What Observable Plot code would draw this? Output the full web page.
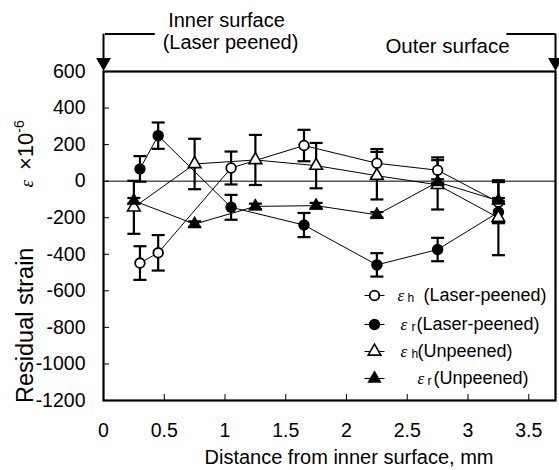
<!DOCTYPE html>
<html><head><meta charset="utf-8">
<script src="https://cdn.jsdelivr.net/npm/d3@7"></script>
<script src="https://cdn.jsdelivr.net/npm/@observablehq/plot@0.6"></script>
<style>
html,body{margin:0;padding:0;background:#fff;}
#chart{width:559px;height:470px;overflow:hidden;}
</style>
</head><body><div id="chart"></div>
<script>
// ---- data ----
const xPeened   = [0.30, 0.45, 1.05, 1.65, 2.25, 2.75, 3.25];
const xUnpeened = [0.25, 0.75, 1.25, 1.75, 2.25, 2.75, 3.25];
const ehLaser      = [-448, -392, 72, 195, 98, 60, -115];
const ehLaserErr   = [92, 97, 90, 86, 78, 70, 110];
const erLaser      = [67, 249, -143, -240, -458, -374, -170];
const erLaserErr   = [70, 72, 68, 66, 64, 64, 60];
const ehUnpeened    = [-143, 94, 116, 85, 30, -20, -200];
const ehUnpeenedErr = [145, 138, 137, 124, 130, 135, 205];
const erUnpeened    = [-107, -235, -138, -134, -184, -5, -107];
const erUnpeenedErr = [15, 15, 15, 15, 15, 15, 15];
const xTicks = [0, 0.5, 1, 1.5, 2, 2.5, 3, 3.5];
const yTicks = [-1200, -1000, -800, -600, -400, -200, 0, 200, 400, 600];
const wallThickness = 3.72;            // outer surface position, mm
const surfaceX = [0, wallThickness];   // inner / outer surface
const seriesNames = ["εh (Laser-peened)", "εr (Laser-peened)", "εh (Unpeened)", "εr (Unpeened)"];

// ---- table ----
function rows(name, xs, ys, es) { return xs.map((x, i) => ({series: name, x, y: ys[i], err: es[i]})); }
const S = [
  rows(seriesNames[0], xPeened, ehLaser, ehLaserErr),
  rows(seriesNames[1], xPeened, erLaser, erLaserErr),
  rows(seriesNames[2], xUnpeened, ehUnpeened, ehUnpeenedErr),
  rows(seriesNames[3], xUnpeened, erUnpeened, erUnpeenedErr)
];
const all = S.flat();

const cap = {draw(ctx) { ctx.moveTo(-6.5, 0); ctx.lineTo(6.5, 0); }};
const legLine = {draw(ctx) { ctx.moveTo(-10, 0); ctx.lineTo(10, 0); }};
const styles = [
  {symbol: "circle", fill: "white", r: 4.8, strokeWidth: 1.8},
  {symbol: "circle", fill: "black", r: 5.7, strokeWidth: 0},
  {symbol: "triangle", fill: "white", r: 4.7, strokeWidth: 1.6},
  {symbol: "triangle", fill: "black", r: 5.0, strokeWidth: 0.5}
];

const marks = [
  Plot.ruleY([0], {stroke: "black", strokeWidth: 1}),
  ...S.map(d => Plot.line(d, {x: "x", y: "y", stroke: "black", strokeWidth: 1})),
  Plot.ruleX(all, {x: "x", y1: d => d.y - d.err, y2: d => d.y + d.err, stroke: "black", strokeWidth: 2.2}),
  Plot.dot(all, {x: "x", y: d => d.y + d.err, symbol: cap, r: 5, stroke: "black", strokeWidth: 2.2}),
  Plot.dot(all, {x: "x", y: d => d.y - d.err, symbol: cap, r: 5, stroke: "black", strokeWidth: 2.2}),
  ...S.map((d, i) => Plot.dot(d, {x: "x", y: "y", stroke: "black", ...styles[i]})),
  Plot.frame({stroke: "black", strokeWidth: 2.2}),
  Plot.axisX({ticks: xTicks, tickSize: -6, tickPadding: 29, tickFormat: d => String(d), fontSize: 19.5, label: null, strokeWidth: 1}),
  Plot.axisY({ticks: yTicks, tickSize: -6, tickPadding: 24, tickFormat: d => String(d), fontSize: 19.5, label: null, strokeWidth: 1}),
  // surface arrows (annotation)
  Plot.ruleX(surfaceX, {x: d => d, y1: 805, y2: 640, stroke: "black", strokeWidth: 2}),
  Plot.ruleY([805], {x1: 0, x2: 0.41, stroke: "black", strokeWidth: 2, dx: 2}),
  Plot.ruleY([805], {x1: 3.32, x2: wallThickness, stroke: "black", strokeWidth: 2}),
  Plot.dot(surfaceX, {x: d => d, y: 650, symbol: "triangle", rotate: 180, r: 5.5, fill: "black"}),
  Plot.text(["Inner surface"], {frameAnchor: "top-left", dx: 123, dy: -51, text: d => d, fontSize: 20, textAnchor: "middle", lineAnchor: "middle"}),
  Plot.text(["(Laser peened)"], {frameAnchor: "top-left", dx: 127, dy: -29, text: d => d, fontSize: 20, textAnchor: "middle", lineAnchor: "middle"}),
  Plot.text(["Outer surface"], {frameAnchor: "top-right", dx: -108, dy: -25, text: d => d, fontSize: 20.5, textAnchor: "middle", lineAnchor: "middle"})
];

// legend inside plot (bottom-right)
const legRows = [
  {dy: -105, eps: -158, sub: "h", subdx: -148, lab: "(Laser-peened)", labdx: -132},
  {dy: -76,  eps: -155, sub: "r", subdx: -144, lab: "(Laser-peened)", labdx: -139},
  {dy: -49,  eps: -155, sub: "h", subdx: -144, lab: "(Unpeened)", labdx: -138},
  {dy: -22,  eps: -138, sub: "r", subdx: -128, lab: "(Unpeened)", labdx: -122}
];
legRows.forEach((r, i) => {
  marks.push(Plot.dot([0], {frameAnchor: "bottom-right", dx: -181, dy: r.dy, symbol: legLine, r: 5, stroke: "black", strokeWidth: 1}));
  marks.push(Plot.dot([0], {frameAnchor: "bottom-right", dx: -181, dy: r.dy, stroke: "black", ...styles[i]}));
  marks.push(Plot.text(["ε"], {frameAnchor: "bottom-right", dx: r.eps, dy: r.dy, text: d => d, textAnchor: "start", lineAnchor: "middle", fontSize: 17, fontStyle: "italic", fontFamily: "Liberation Serif, serif"}));
  marks.push(Plot.text([r.sub], {frameAnchor: "bottom-right", dx: r.subdx, dy: r.dy + 3, text: d => d, textAnchor: "start", lineAnchor: "middle", fontSize: 12}));
  marks.push(Plot.text([r.lab], {frameAnchor: "bottom-right", dx: r.labdx, dy: r.dy, text: d => d, textAnchor: "start", lineAnchor: "middle", fontSize: 18}));
});

const chart = Plot.plot({
  width: 559, height: 470,
  marginLeft: 103, marginRight: 4, marginTop: 71, marginBottom: 70,
  x: {domain: [0, wallThickness]},
  y: {domain: [-1200, 600]},
  style: {fontFamily: "Liberation Sans, Arial, sans-serif", background: "white", color: "black", overflow: "visible"},
  marks
});
document.getElementById("chart").appendChild(chart);

// axis titles with rich text
const svg = d3.select(chart);
const yt = svg.append("text")
  .attr("transform", "translate(33,403) rotate(-90)")
  .attr("text-anchor", "start")
  .attr("font-size", 23.5)
  .attr("font-family", "Liberation Sans, Arial, sans-serif")
  .attr("fill", "black");
yt.append("tspan").text("Residual strain");
yt.append("tspan").attr("dx", 60).attr("font-family", "Liberation Serif, serif").attr("font-style", "italic").attr("font-size", 19).text("ε");
yt.append("tspan").attr("dx", 10).attr("font-size", 22).text("×10");
yt.append("tspan").attr("dy", -9).attr("font-size", 14).text("-6");

svg.append("text")
  .attr("x", 349).attr("y", 464)
  .attr("text-anchor", "middle")
  .attr("font-size", 20)
  .attr("font-family", "Liberation Sans, Arial, sans-serif")
  .attr("fill", "black")
  .text("Distance from inner surface, mm");
</script>
</body></html>
